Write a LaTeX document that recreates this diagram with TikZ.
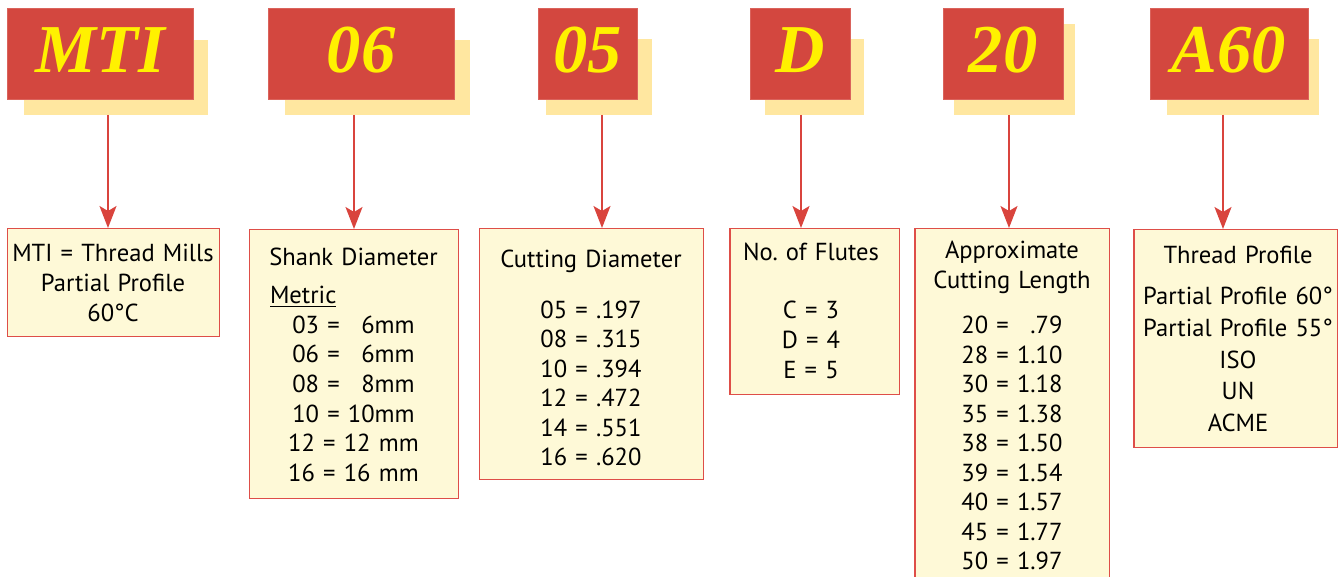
\documentclass[tikz,border=0pt]{standalone}
\usepackage{fontspec}
\setmainfont{PT Sans}[WordSpace=0.55]
\newfontfamily\codefont{Liberation Serif}
\usepackage{tikz}
\usetikzlibrary{arrows.meta}
\frenchspacing

\definecolor{codered}{RGB}{211,71,63}
\definecolor{shadowyellow}{RGB}{255,231,160}
\definecolor{boxfill}{RGB}{254,249,215}
\definecolor{boxline}{RGB}{222,78,72}
\definecolor{arrowred}{RGB}{217,68,61}
\definecolor{codeyellow}{RGB}{255,241,0}

\tikzset{
    codebox/.style={fill=codered, draw=codered!85!white, line width=0.5pt, minimum height=1.82cm, inner sep=0pt,
        text depth=0.15cm, font=\codefont\bfseries\itshape\fontsize{39}{39}\selectfont, text=codeyellow},
    shade/.style={fill=shadowyellow},
    infobox/.style={draw=boxline, fill=boxfill, line width=0.85pt, anchor=north west, inner sep=0pt},
    infotext/.style={anchor=base, align=center, inner sep=0pt, text width=4.4cm, font=\fontsize{14}{16.8}\selectfont},
    arr/.style={draw=arrowred, line width=1.1pt, -{Stealth[length=0.44cm, width=0.34cm, inset=0.1cm]}}
}

\begin{document}
\begin{tikzpicture}[x=0.02cm, y=-0.02cm]
    \useasboundingbox (0, 0) rectangle (1339, 577);

    \fill[shade] (24, 40) rectangle (208, 115);
    \fill[shade] (285, 40) rectangle (470, 115);
    \fill[shade] (546, 39) rectangle (652, 115);
    \fill[shade] (765, 39) rectangle (864, 115);
    \fill[shade] (954, 24) rectangle (1075, 115);
    \fill[shade] (1167, 39) rectangle (1319, 115);

    \node[codebox, minimum width=3.72cm] (mti) at (100, 53.5) {MTI};
    \node[codebox, minimum width=3.72cm] (shank) at (361, 53.5) {06};
    \node[codebox, minimum width=1.98cm] (cut) at (587.5, 53.5) {05};
    \node[codebox, minimum width=2.0cm] (flutes) at (800, 53.5) {D};
    \node[codebox, minimum width=2.4cm] (length) at (1003, 53.5) {20};
    \node[codebox, minimum width=3.16cm] (profile) at (1229, 53.5) {A60};

    \node[infobox, minimum width=4.24cm, minimum height=2.16cm] (mtiBox) at (7, 228) {};
    \node[infobox, minimum width=4.18cm, minimum height=5.38cm] (shankBox) at (249, 229) {};
    \node[infobox, minimum width=4.48cm, minimum height=5.02cm] (cutBox) at (479, 228) {};
    \node[infobox, minimum width=3.4cm, minimum height=3.32cm] (flutesBox) at (729, 228) {};
    \node[infobox, minimum width=3.9cm, minimum height=7.44cm] (lengthBox) at (914, 228) {};
    \node[infobox, minimum width=4.08cm, minimum height=4.36cm] (profileBox) at (1133, 229) {};

    \node[infotext] (mtiTxt) at (113, 262)
        {MTI = Thread Mills\\Partial Profile\\60°C};
    \node[infotext] (shankTxt) at (353.5, 266)
        {Shank Diameter\\[4.8pt]\makebox[3.34cm][l]{\underline{Metric}}\\
         03 = \phantom{1}6mm\\06 = \phantom{1}6mm\\08 = \phantom{1}8mm\\
         10 = 10mm\\12 = 12 mm\\16 = 16 mm};
    \node[infotext] (cutTxt) at (591, 268)
        {Cutting Diameter\\[11.7pt]05 = .197\\08 = .315\\10 = .394\\12 = .472\\14 = .551\\16 = .620};
    \node[infotext] (flutesTxt) at (811, 261)
        {No. of Flutes\\[16.2pt]C = 3\\D = 4\\E = 5};
    \node[infotext] (lengthTxt) at (1012, 259)
        {Approximate\\Cutting Length\\[8.8pt]20 = \phantom{1}.79\\28 = 1.10\\30 = 1.18\\35 = 1.38\\
         38 = 1.50\\39 = 1.54\\40 = 1.57\\45 = 1.77\\50 = 1.97};
    \node[infotext] (profileTxt) at (1238, 264)
        {Thread Profile\\[6.5pt]Partial Profile 60°\\[1.2pt]Partial Profile 55°\\[1.2pt]ISO\\[1.2pt]UN\\[1.2pt]ACME};

    \coordinate (a1) at (108, 115);
    \coordinate (a2) at (354, 115);
    \coordinate (a3) at (602, 115);
    \coordinate (a4) at (801, 115);
    \coordinate (a5) at (1009, 115);
    \coordinate (a6) at (1223, 115);

    \draw[arr] (a1) -- (a1 |- mtiBox.north);
    \draw[arr] (a2) -- (a2 |- shankBox.north);
    \draw[arr] (a3) -- (a3 |- cutBox.north);
    \draw[arr] (a4) -- (a4 |- flutesBox.north);
    \draw[arr] (a5) -- (a5 |- lengthBox.north);
    \draw[arr] (a6) -- (a6 |- profileBox.north);

\end{tikzpicture}
\end{document}
